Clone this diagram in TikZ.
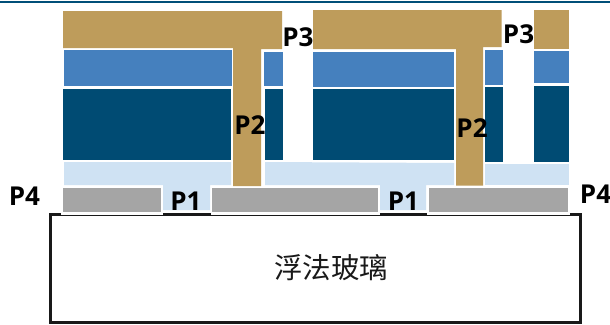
\documentclass[tikz,border=0pt]{standalone}
\usepackage{fontspec}
\setmainfont{Open Sans}
\newfontfamily\cjk{Noto Sans CJK SC}
\definecolor{goldc}{HTML}{BE9C5B}
\definecolor{bluec}{HTML}{4580BE}
\definecolor{darkc}{HTML}{004B73}
\definecolor{lightc}{HTML}{CFE2F3}
\definecolor{grayc}{HTML}{A5A5A5}
\definecolor{linec}{HTML}{004F78}
\tikzset{
  gold/.style={fill=goldc},
  midblue/.style={fill=bluec},
  deepblue/.style={fill=darkc},
  pale/.style={fill=lightc},
  grayfill/.style={fill=grayc,draw=white,line width=1.4pt},
  padgap/.style={fill=white},
  glass/.style={draw=black!90,line width=2.5pt,fill=white},
  plabel/.style={font=\bfseries\fontsize{26}{26}\selectfont,inner sep=0pt,anchor=base,text=black},
  cjklabel/.style={font=\cjk\fontsize{28.5}{28.5}\selectfont,inner sep=0pt,text=black!90}
}
\begin{document}
\begin{tikzpicture}[x=1pt,y=-1pt]
\useasboundingbox[fill=white] (0,0) rectangle (610,324);
\fill[linec] (0,0.6) rectangle (610,3.2);
% substrate
\draw[glass] (50.5,214.5) rectangle (580.5,322.3);
\node[cjklabel] (glassText) at (331,268) {浮法玻璃};
% white halo of the pads over the substrate edge
\path[padgap] (61,205) rectangle (163,214.8);
\path[padgap] (210.5,205) rectangle (379.5,214.8);
\path[padgap] (427,205) rectangle (570,214.8);
% pale layer
\path[pale] (64,162) -- (231,162) -- (231,185) -- (210,185) -- (210,210) -- (163,210) -- (163,185) -- (64,185) -- cycle;
\path[pale] (265,162) -- (454,163) -- (454,185) -- (426,185) -- (426,210) -- (380,210) -- (380,185) -- (265,185) -- cycle;
\path[pale] (485,163.5) rectangle (569,185);
% gray pads
\path[grayfill] (62.5,187) rectangle (162,212.3);
\path[grayfill] (211.5,187) rectangle (378.5,212.3);
\path[grayfill] (428,187) rectangle (569,212.3);
% dark layer
\path[deepblue] (63,88.5) rectangle (231,160);
\path[deepblue] (264.5,88.5) rectangle (282.5,160);
\path[deepblue] (313,89) rectangle (454,160);
\path[deepblue] (485,87) rectangle (503,161.5);
\path[deepblue] (534,85.5) rectangle (568.5,161.5);
% mid blue layer
\path[midblue] (64,50) rectangle (231.5,86);
\path[midblue] (264,51.5) rectangle (282.5,86);
\path[midblue] (313,51.5) rectangle (454,87);
\path[midblue] (485,49.5) rectangle (503,84.5);
\path[midblue] (534,51) rectangle (568.5,83);
% gold metal
\path[gold] (63,11) -- (282,11) -- (282,49) -- (261,49) -- (261,186) -- (233,186) -- (233,48) -- (63,48) -- cycle;
\path[gold] (313,10) -- (501.5,10) -- (501.5,47) -- (483,47) -- (483,185.5) -- (456,185.5) -- (456,49) -- (313,49) -- cycle;
\path[gold] (534,10) rectangle (568.5,49);
% labels
\node[plabel] (pThreeA) at (298,46) {P3};
\node[plabel] (pThreeB) at (518.5,43) {P3};
\node[plabel] (pTwoA) at (250,134) {P2};
\node[plabel] (pTwoB) at (472,137) {P2};
\node[plabel] (pOneA) at (186,210) {P1};
\node[plabel] (pOneB) at (403.5,210) {P1};
\node[plabel] (pFourA) at (24.5,205) {P4};
\node[plabel] (pFourB) at (595.5,203) {P4};
\end{tikzpicture}
\end{document}
